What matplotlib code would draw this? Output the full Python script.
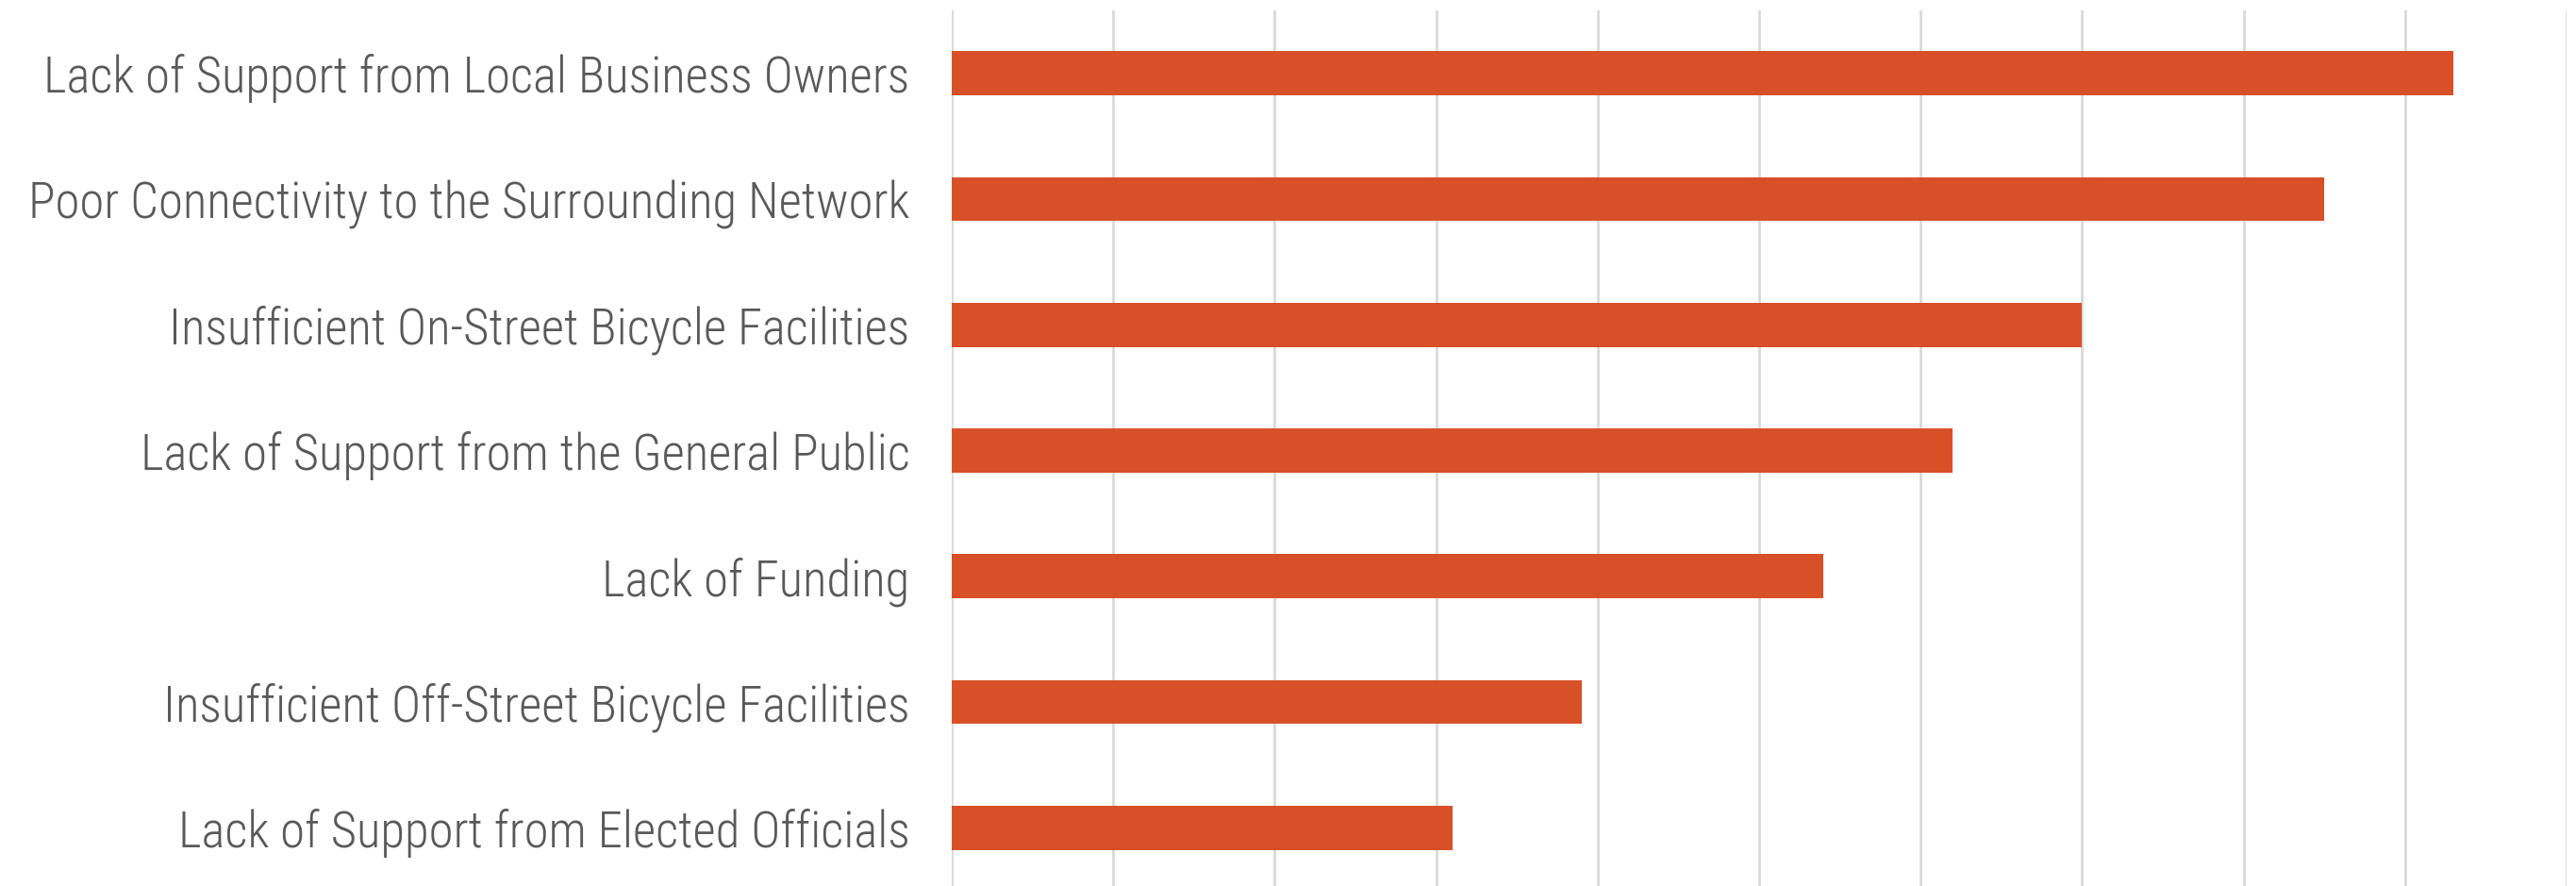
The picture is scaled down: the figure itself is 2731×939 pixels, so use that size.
import matplotlib
matplotlib.use("Agg")
import matplotlib.pyplot as plt

plt.rcParams['font.family'] = ['Roboto Condensed', 'Roboto', 'DejaVu Sans']

barriers = [
    'Lack of Support from Local Business Owners',
    'Poor Connectivity to the Surrounding Network',
    'Insufficient On-Street Bicycle Facilities',
    'Lack of Support from the General Public',
    'Lack of Funding',
    'Insufficient Off-Street Bicycle Facilities',
    'Lack of Support from Elected Officials',
]
share = [46.5, 42.5, 35.0, 31.0, 27.0, 19.5, 15.5]  # percent of respondents
grid_ticks = list(range(0, 55, 5))

fig = plt.figure(figsize=(27.31, 9.39), dpi=100)
# plot area runs a little past the bottom edge, so the gridlines bleed off
ax = fig.add_axes([1009 / 2731, -5 / 939, 1712 / 2731, 933 / 939])

ypos = range(len(barriers))
ax.barh(ypos, share, height=0.35, color='#D85027', zorder=3)

ax.set_xlim(0, 50)
ax.set_ylim(len(barriers) - 0.5, -0.5)
ax.set_xticks(grid_ticks)
ax.set_xticklabels([])
ax.set_yticks(list(ypos))
ax.set_yticklabels(barriers, fontsize=38, color='#595959', fontweight='light')
ax.tick_params(axis='both', length=0)
ax.tick_params(axis='y', pad=32)

ax.grid(axis='x', color='#d9d9d9', linewidth=2.0, zorder=0)
for s in ax.spines.values():
    s.set_visible(False)

fig.savefig('out.png', dpi=100)
